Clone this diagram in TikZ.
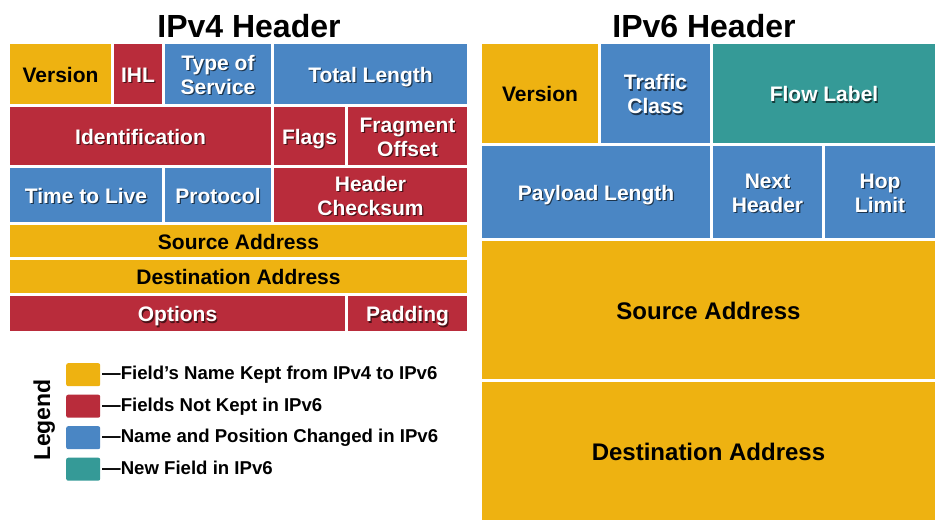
\documentclass[tikz,border=0pt]{standalone}
\usepackage{fontspec}
\setmainfont{Liberation Sans}

\definecolor{keptyellow}{HTML}{EEB211}
\definecolor{droppedred}{HTML}{B92C3B}
\definecolor{movedblue}{HTML}{4A86C4}
\definecolor{newteal}{HTML}{359A97}

\tikzset{
  fieldlabel/.style={inner sep=0pt, align=center,
    font=\bfseries\fontsize{21}{24}\selectfont},
  biglabel/.style={yshift=-0.5pt, font=\bfseries\fontsize{24}{27}\selectfont},
  darktext/.style={fieldlabel, text=black},
  lighttext/.style={fieldlabel, text=white},
  shadowtext/.style={fieldlabel, text=black, text opacity=0.6},
  headertitle/.style={inner sep=0pt, anchor=base,
    font=\bfseries\fontsize{32}{36}\selectfont},
  swatch/.style={rounded corners=2pt, inner sep=0pt, minimum width=34pt,
    minimum height=23pt, anchor=north west},
  legendtext/.style={inner sep=0pt, anchor=base west,
    font=\bfseries\fontsize{18.6}{21}\selectfont},
}

% [extra style]{name}{x1}{y1}{x2}{y2}{fill}{label} -- black label
\newcommand\darkcell[8][]{%
  \fill[#7] (#3,#4) rectangle (#5,#6);
  \node[darktext,yshift=-3.5pt,#1] (#2) at ({(#3+#5)/2},{(#4+#6)/2}) {\strut #8};
}
% same, white label with a soft drop shadow
\newcommand\lightcell[8][]{%
  \fill[#7] (#3,#4) rectangle (#5,#6);
  \node[shadowtext,yshift=-4.7pt,xshift=1.2pt,#1] at ({(#3+#5)/2},{(#4+#6)/2}) {\strut #8};
  \node[lighttext,yshift=-3.5pt,#1] (#2) at ({(#3+#5)/2},{(#4+#6)/2}) {\strut #8};
}

\begin{document}
\begin{tikzpicture}[x=1pt,y=-1pt]
\fill[white] (0,0) rectangle (939,520);
\useasboundingbox (0,0) rectangle (939,520);

% ---------- IPv4 ----------
\node[headertitle] (v4title) at (249,37) {IPv4 Header};

\darkcell{v4ver}{10}{44}{111}{104}{keptyellow}{Version}
\lightcell{v4ihl}{114}{44}{162}{104}{droppedred}{IHL}
\lightcell{v4tos}{165}{44}{271}{104}{movedblue}{Type of\\\strut Service}
\lightcell{v4len}{274}{44}{467}{104}{movedblue}{Total Length}

\lightcell{v4id}{10}{107}{271}{165}{droppedred}{Identification}
\lightcell{v4flags}{274}{107}{345}{165}{droppedred}{Flags}
\lightcell{v4frag}{348}{107}{467}{165}{droppedred}{Fragment\\\strut Offset}

\lightcell{v4ttl}{10}{168}{162}{222}{movedblue}{Time to Live}
\lightcell{v4proto}{165}{168}{271}{222}{movedblue}{Protocol}
\lightcell{v4csum}{274}{168}{467}{222}{droppedred}{Header\\\strut Checksum}

\darkcell{v4src}{10}{225}{467}{257}{keptyellow}{Source Address}
\darkcell{v4dst}{10}{260}{467}{293}{keptyellow}{Destination Address}

\lightcell{v4opt}{10}{296}{345}{331}{droppedred}{Options}
\lightcell{v4pad}{348}{296}{467}{331}{droppedred}{Padding}

% ---------- IPv6 ----------
\node[headertitle] (v6title) at (704,37) {IPv6 Header};

\darkcell{v6ver}{482}{44}{598}{143}{keptyellow}{Version}
\lightcell{v6tc}{601}{44}{710}{143}{movedblue}{Traffic\\\strut Class}
\lightcell{v6flow}{713}{44}{935}{143}{newteal}{Flow Label}

\lightcell{v6plen}{482}{146}{710}{238}{movedblue}{Payload Length}
\lightcell{v6next}{713}{146}{822}{238}{movedblue}{Next\\\strut Header}
\lightcell{v6hop}{825}{146}{935}{238}{movedblue}{Hop\\\strut Limit}

\darkcell[biglabel]{v6src}{482}{241}{935}{379}{keptyellow}{Source Address}
\darkcell[biglabel]{v6dst}{482}{382}{935}{520}{keptyellow}{Destination Address}

% ---------- legend ----------
\node[rotate=90, anchor=base, inner sep=0pt,
      font=\bfseries\fontsize{23}{26}\selectfont] (legendtitle) at (50,420) {Legend};

\node[swatch, fill=keptyellow] (swkept) at (66,363) {};
\node[swatch, fill=droppedred] (swdropped) at (66,394.5) {};
\node[swatch, fill=movedblue] (swmoved) at (66,426) {};
\node[swatch, fill=newteal] (swnew) at (66,457.5) {};

\node[legendtext] (lgkept) at (102,379.5) {—Field’s Name Kept from IPv4 to IPv6};
\node[legendtext] (lgdropped) at (102,411.2) {—Fields Not Kept in IPv6};
\node[legendtext] (lgmoved) at (102,442.7) {—Name and Position Changed in IPv6};
\node[legendtext] (lgnew) at (102,474.2) {—New Field in IPv6};
\end{tikzpicture}
\end{document}
